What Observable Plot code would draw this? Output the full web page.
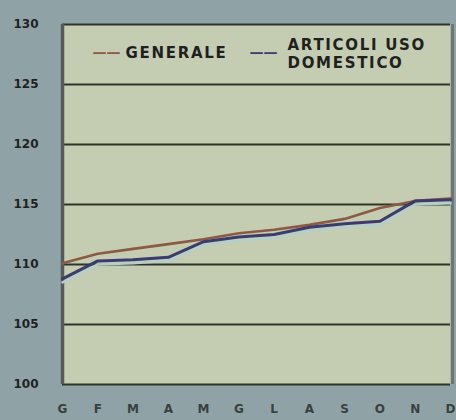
<!DOCTYPE html>
<html>
<head>
<meta charset="utf-8">
<script src="https://cdn.jsdelivr.net/npm/d3@7"></script>
<script src="https://cdn.jsdelivr.net/npm/@observablehq/plot@0.6"></script>
<style>
  html, body { margin: 0; padding: 0; background: #8fa3a7; }
  #chart svg { display: block; background: #8fa3a7; }
</style>
</head>
<body>
<div id="chart"></div>
<script>
const months = ["G", "F", "M", "A", "M", "G", "L", "A", "S", "O", "N", "D"];
const generale = [110.1, 110.9, 111.3, 111.7, 112.1, 112.6, 112.9, 113.3, 113.8, 114.7, 115.3, 115.5];
const articoli = [108.8, 110.3, 110.4, 110.6, 111.9, 112.3, 112.5, 113.1, 113.4, 113.6, 115.3, 115.4];
const yTicks = [100, 105, 110, 115, 120, 125, 130];
const seriesNames = ["GENERALE", "ARTICOLI USO\nDOMESTICO"];
const seriesColors = ["#8a5a44", "#3c3b6c"];

const idx = months.map((_, i) => i);
const genData = idx.map(i => ({i, v: generale[i]}));
const artData = idx.map(i => ({i, v: articoli[i]}));

const chart = Plot.plot({
  width: 456,
  height: 420,
  marginLeft: 62,
  marginRight: 6,
  marginTop: 24,
  marginBottom: 36,
  style: {background: "#8fa3a7", fontFamily: "DejaVu Sans, sans-serif"},
  x: {domain: [0, 11], ticks: idx, tickFormat: i => months[i], tickSize: 0, tickPadding: 20, label: null},
  y: {domain: [100, 130], ticks: yTicks, tickSize: 0, tickPadding: 24, label: null},
  marks: [
    Plot.frame({fill: "#c4cdb2", stroke: null}),
    Plot.ruleY(yTicks, {stroke: "#2e3429", strokeWidth: 2.2}),
    Plot.ruleX([0], {stroke: "#55595a", strokeWidth: 3.5, y1: 100, y2: 130}),
    Plot.ruleX([11], {stroke: "#6d7677", strokeWidth: 3, dx: 2, y1: 100, y2: 130}),
    Plot.line(artData, {x: "i", y: "v", stroke: "#b4cfcb", strokeWidth: 2.5, dy: 3.5}),
    Plot.line(genData, {x: "i", y: "v", stroke: seriesColors[0], strokeWidth: 2.6}),
    Plot.line(artData, {x: "i", y: "v", stroke: seriesColors[1], strokeWidth: 3}),
    Plot.axisY({ticks: yTicks, tickSize: 0, tickPadding: 24, fontSize: 12, fontWeight: "bold", fill: "#1f2320", textAnchor: "end"}),
    Plot.axisX({ticks: idx, tickFormat: i => months[i], tickSize: 0, tickPadding: 20, fontSize: 12, fontWeight: "bold", fill: "#3a3f40"}),
    // legend
    Plot.text([seriesColors[0]], {frameAnchor: "top-left", text: () => "\u2014\u2014", dx: 30, dy: 23, fill: d => d, fontSize: 14, fontWeight: "bold", textAnchor: "start"}),
    Plot.text([seriesColors[1]], {frameAnchor: "top-left", text: () => "\u2014\u2014", dx: 187, dy: 23, fill: d => d, fontSize: 14, fontWeight: "bold", textAnchor: "start"}),
    Plot.text([seriesNames[0]], {frameAnchor: "top-left", text: d => d, dx: 63, dy: 23, fill: "#1e211d", fontSize: 15, fontWeight: "bold", textAnchor: "start"}),
    Plot.text([seriesNames[1]], {frameAnchor: "top-left", text: d => d, dx: 225, dy: 13, fill: "#1e211d", fontSize: 15, fontWeight: "bold", textAnchor: "start", lineHeight: 1.2})
  ]
});
d3.select(chart).selectAll("text")
  .filter(function () {
    const t = this.textContent;
    return t.startsWith("GENERALE") || t.startsWith("ARTICOLI");
  })
  .style("letter-spacing", "1.7px");
document.getElementById("chart").appendChild(chart);
</script>
</body>
</html>
